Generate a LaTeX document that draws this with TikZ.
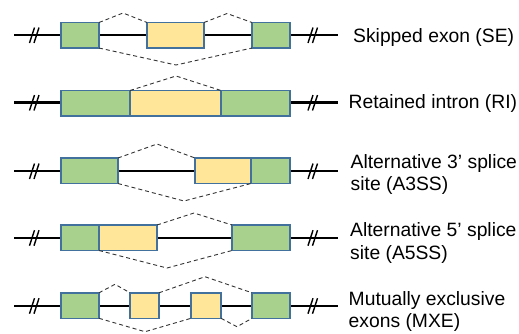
\documentclass[tikz,border=0pt]{standalone}
\usepackage{fontspec}
\setmainfont{Liberation Sans}
\definecolor{exonedge}{HTML}{41719C}
\definecolor{constgreen}{HTML}{A9D18E}
\definecolor{altyellow}{HTML}{FFE699}
\begin{document}
\begin{tikzpicture}[x=1pt,y=-1pt,
  gene/.style={line width=2.4pt},
  brk/.style={line width=1.4pt},
  exon/.style={draw=exonedge, line width=1.4pt, inner sep=0pt, outer sep=0pt,
    anchor=north west, minimum height=25.5pt},
  const/.style={exon, fill=constgreen},
  alt/.style={exon, fill=altyellow},
  junction/.style={line width=0.9pt, black!80, dash pattern=on 4pt off 3pt},
  lbl/.style={anchor=base west, inner sep=0pt, font=\fontsize{19.3}{22.4}\selectfont}]
\useasboundingbox (0,0) rectangle (519,333);

% gene backbone with break marks: #1 = row name, #2 = y of the line
\newcommand{\backbone}[2]{%
  \coordinate (#1L) at (14,#2);
  \coordinate (#1R) at (338,#2);
  \coordinate (#1bl) at (34.5,#2);
  \coordinate (#1br) at (313,#2);
  \draw[gene] (#1L) -- (#1R);
  \draw[brk] ([shift={(-5,8)}]#1bl) -- ([shift={(0,-7.5)}]#1bl)
             ([shift={(-0.5,8)}]#1bl) -- ([shift={(4.5,-7.5)}]#1bl);
  \draw[brk] ([shift={(-5,8)}]#1br) -- ([shift={(0,-7.5)}]#1br)
             ([shift={(-0.5,8)}]#1br) -- ([shift={(4.5,-7.5)}]#1br);
}

% ---- Skipped exon ----
\backbone{se}{35}
\node[const, minimum width=38pt] (se1) at (61,22.5) {};
\node[alt,   minimum width=57pt] (se2) at (147,22.5) {};
\node[const, minimum width=38pt] (se3) at (252,22.5) {};
\coordinate (seu1) at (123,13);
\coordinate (seu2) at (227,13.5);
\coordinate (sed)  at (176,65);
\draw[junction] (se1.north east) -- (seu1) -- (se2.north west);
\draw[junction] (se2.north east) -- (seu2) -- (se3.north west);
\draw[junction] (se1.south east) -- (sed) -- (se3.south west);
\node[lbl] (selab) at (353,42) {Skipped exon (SE)};

% ---- Retained intron ----
\backbone{ri}{102.5}
\node[const, minimum width=69pt] (ri1) at (61,90.5) {};
\node[alt,   minimum width=91pt] (ri2) at (130,90.5) {};
\node[const, minimum width=69pt] (ri3) at (221,90.5) {};
\coordinate (riu) at (176,76);
\draw[junction] (ri2.north west) -- (riu) -- (ri2.north east);
\node[lbl] (rilab) at (348.5,108.5) {Retained intron (RI)};

% ---- Alternative 3' splice site ----
\backbone{tr}{171}
\node[const, minimum width=57pt] (tr1) at (61,158) {};
\node[alt,   minimum width=56pt] (tr2) at (195,158) {};
\node[const, minimum width=39pt] (tr3) at (251,158) {};
\coordinate (tru) at (157,144);
\coordinate (trd) at (184,201);
\draw[junction] (tr1.north east) -- (tru) -- (tr2.north west);
\draw[junction] (tr1.south east) -- (trd) -- (tr3.south west);
\node[lbl] (trlab1) at (350.5,168.3) {Alternative 3’ splice};
\node[lbl] (trlab2) at (350.5,190.7) {site (A3SS)};

% ---- Alternative 5' splice site ----
\backbone{fv}{237.7}
\node[const, minimum width=38pt] (fv1) at (61,225) {};
\node[alt,   minimum width=58pt] (fv2) at (99,225) {};
\node[const, minimum width=58pt] (fv3) at (232,225) {};
\coordinate (fvu) at (194,213);
\coordinate (fvd) at (167,268);
\draw[junction] (fv2.north east) -- (fvu) -- (fv3.north west);
\draw[junction] (fv2.south west) -- (fvd) -- (fv3.south west);
\node[lbl] (fvlab1) at (350,236.8) {Alternative 5’ splice};
\node[lbl] (fvlab2) at (350,259.2) {site (A5SS)};

% ---- Mutually exclusive exons ----
\backbone{mx}{305.7}
\node[const, minimum width=38pt] (mx1) at (61,292.8) {};
\node[alt,   minimum width=29pt] (mx2) at (130,292.8) {};
\node[alt,   minimum width=30pt] (mx3) at (191,292.8) {};
\node[const, minimum width=38pt] (mx4) at (252,292.8) {};
\coordinate (mxu1) at (115,284.3);
\coordinate (mxu2) at (205,276.7);
\coordinate (mxd1) at (145,331.7);
\coordinate (mxd2) at (237,326.7);
\draw[junction] (mx1.north east) -- (mxu1) -- (mx2.north west);
\draw[junction] (mx2.north east) -- (mxu2) -- (mx4.north west);
\draw[junction] (mx1.south east) -- (mxd1) -- (mx3.south west);
\draw[junction] (mx3.south east) -- (mxd2) -- (mx4.south west);
\node[lbl] (mxlab1) at (348.5,305) {Mutually exclusive};
\node[lbl] (mxlab2) at (348.5,327.4) {exons (MXE)};
\end{tikzpicture}
\end{document}
